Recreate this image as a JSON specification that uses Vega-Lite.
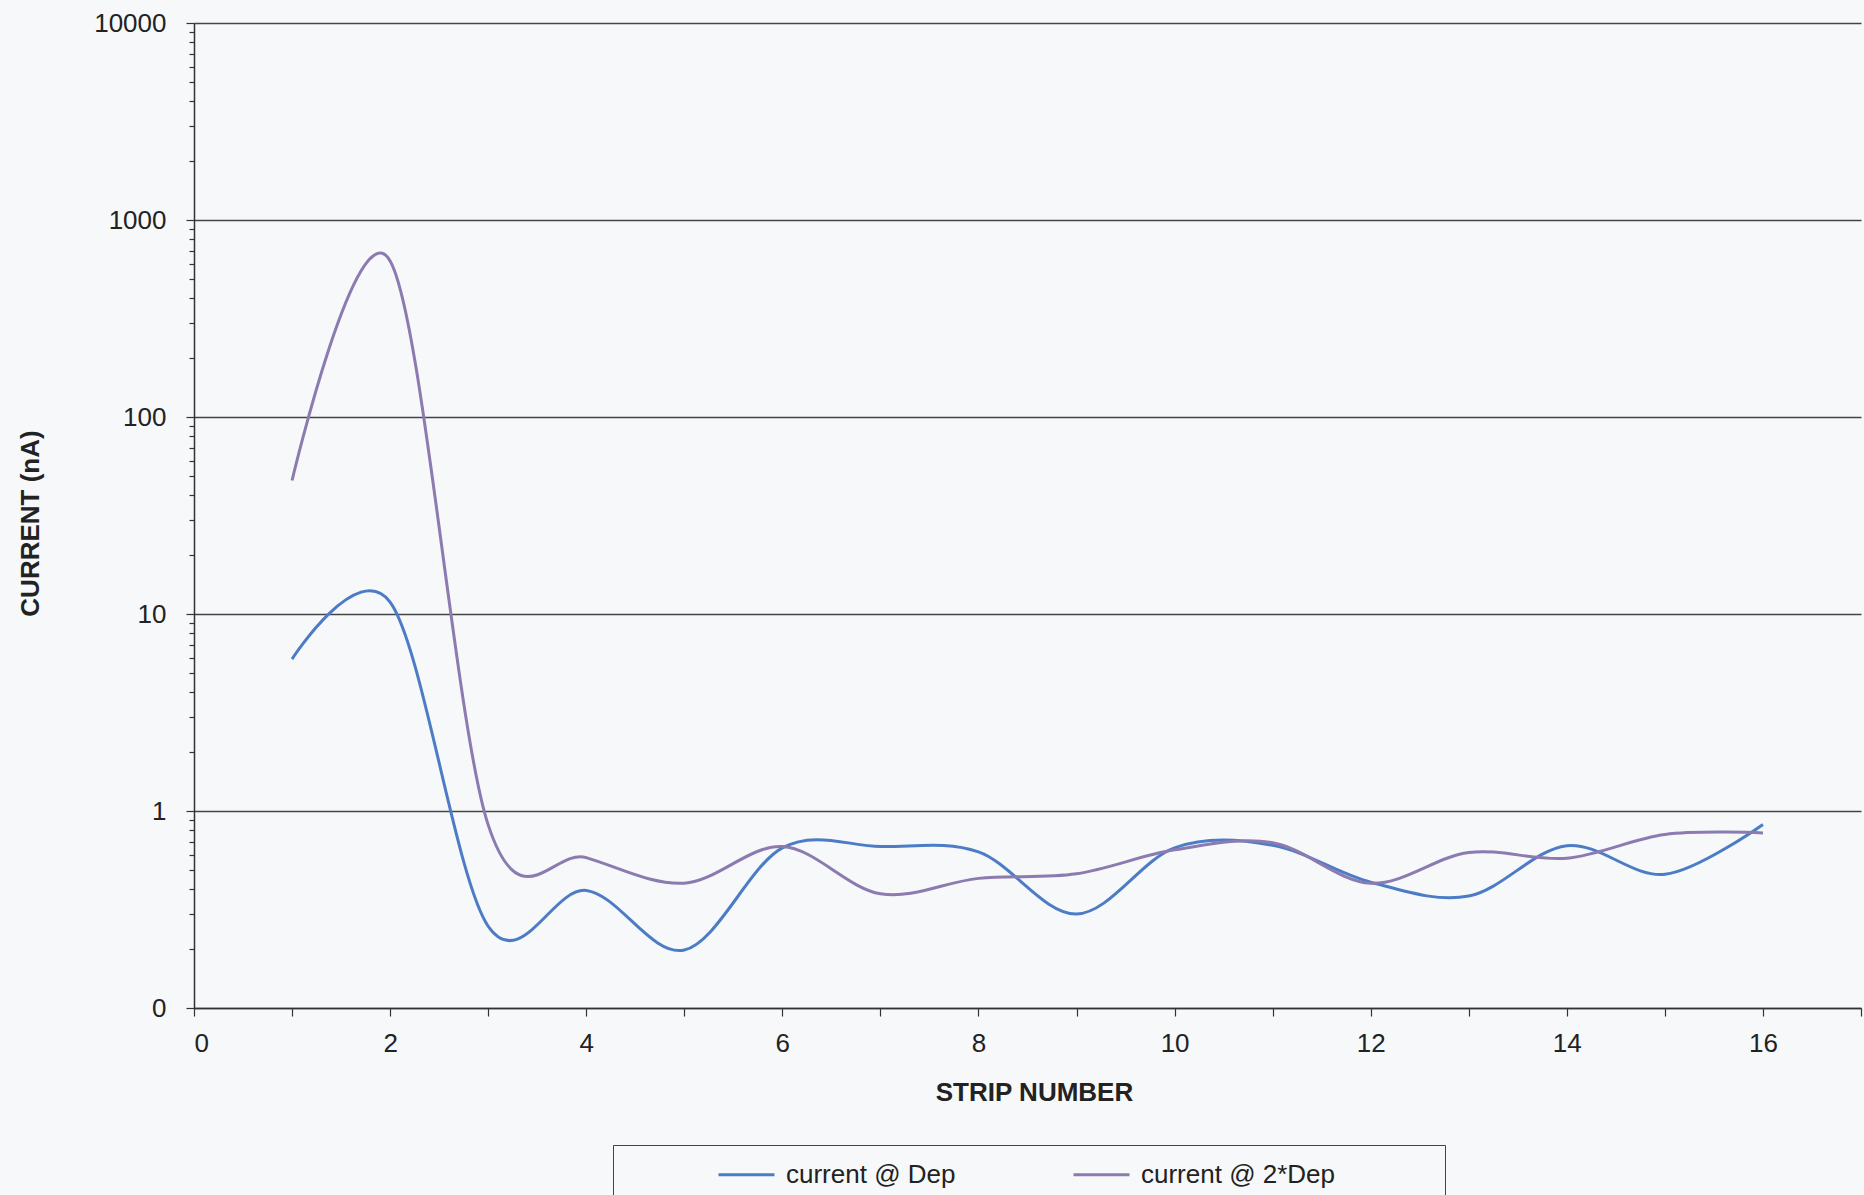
{
  "$schema": "https://vega.github.io/schema/vega-lite/v6.json",
  "width": 1667,
  "height": 985,
  "autosize": {"type": "none"},
  "padding": {"left": 194, "top": 23, "right": 3, "bottom": 187},
  "background": "#f6f8fa",
  "data": {
    "values": [
      {"strip": 1, "current": 5.9, "series": "current @ Dep"},
      {"strip": 2, "current": 11.5, "series": "current @ Dep"},
      {"strip": 3, "current": 0.26, "series": "current @ Dep"},
      {"strip": 4, "current": 0.395, "series": "current @ Dep"},
      {"strip": 5, "current": 0.197, "series": "current @ Dep"},
      {"strip": 6, "current": 0.65, "series": "current @ Dep"},
      {"strip": 7, "current": 0.66, "series": "current @ Dep"},
      {"strip": 8, "current": 0.62, "series": "current @ Dep"},
      {"strip": 9, "current": 0.3, "series": "current @ Dep"},
      {"strip": 10, "current": 0.65, "series": "current @ Dep"},
      {"strip": 11, "current": 0.67, "series": "current @ Dep"},
      {"strip": 12, "current": 0.435, "series": "current @ Dep"},
      {"strip": 13, "current": 0.37, "series": "current @ Dep"},
      {"strip": 14, "current": 0.667, "series": "current @ Dep"},
      {"strip": 15, "current": 0.477, "series": "current @ Dep"},
      {"strip": 16, "current": 0.855, "series": "current @ Dep"},
      {"strip": 1, "current": 47.6, "series": "current @ 2*Dep"},
      {"strip": 2, "current": 620, "series": "current @ 2*Dep"},
      {"strip": 3, "current": 0.85, "series": "current @ 2*Dep"},
      {"strip": 4, "current": 0.58, "series": "current @ 2*Dep"},
      {"strip": 5, "current": 0.43, "series": "current @ 2*Dep"},
      {"strip": 6, "current": 0.66, "series": "current @ 2*Dep"},
      {"strip": 7, "current": 0.38, "series": "current @ 2*Dep"},
      {"strip": 8, "current": 0.455, "series": "current @ 2*Dep"},
      {"strip": 9, "current": 0.48, "series": "current @ 2*Dep"},
      {"strip": 10, "current": 0.635, "series": "current @ 2*Dep"},
      {"strip": 11, "current": 0.69, "series": "current @ 2*Dep"},
      {"strip": 12, "current": 0.43, "series": "current @ 2*Dep"},
      {"strip": 13, "current": 0.616, "series": "current @ 2*Dep"},
      {"strip": 14, "current": 0.576, "series": "current @ 2*Dep"},
      {"strip": 15, "current": 0.76, "series": "current @ 2*Dep"},
      {"strip": 16, "current": 0.774, "series": "current @ 2*Dep"}
    ]
  },
  "mark": {"type": "line", "interpolate": "cardinal", "strokeWidth": 3},
  "encoding": {
    "x": {
      "field": "strip",
      "type": "quantitative",
      "scale": {"domain": [0, 17], "nice": false, "zero": false},
      "axis": {
        "title": "STRIP NUMBER",
        "titleX": 840,
        "titleY": 84,
        "titleBaseline": "middle",
        "titleAlign": "center",
        "values": [0, 1, 2, 3, 4, 5, 6, 7, 8, 9, 10, 11, 12, 13, 14, 15, 16, 17],
        "labelExpr": "datum.value % 2 == 0 ? datum.label : ''",
        "labelOverlap": false,
        "labelPadding": 14,
        "tickSize": 8,
        "grid": false
      }
    },
    "y": {
      "field": "current",
      "type": "quantitative",
      "scale": {"type": "log", "domain": [0.1, 10000], "nice": false},
      "axis": {
        "title": "CURRENT (nA)",
        "titleX": -164,
        "titleY": 500,
        "titleAngle": -90,
        "titleBaseline": "middle",
        "titleAlign": "center",
        "values": [0.1, 0.2, 0.3, 0.4, 0.5, 0.6, 0.7, 0.8, 0.9,
                   1, 2, 3, 4, 5, 6, 7, 8, 9,
                   10, 20, 30, 40, 50, 60, 70, 80, 90,
                   100, 200, 300, 400, 500, 600, 700, 800, 900,
                   1000, 2000, 3000, 4000, 5000, 6000, 7000, 8000, 9000, 10000],
        "format": "d",
        "labelExpr": "indexof([0.1, 1, 10, 100, 1000, 10000], datum.value) >= 0 ? datum.label : ''",
        "labelOverlap": false,
        "labelPadding": 20,
        "tickSize": {"condition": {"test": "indexof([0.1, 1, 10, 100, 1000, 10000], datum.value) >= 0", "value": 8}, "value": 5},
        "grid": true,
        "gridOpacity": {"condition": {"test": "indexof([0.1, 1, 10, 100, 1000, 10000], datum.value) >= 0", "value": 1}, "value": 0}
      }
    },
    "color": {
      "field": "series",
      "type": "nominal",
      "scale": {
        "domain": ["current @ Dep", "current @ 2*Dep"],
        "range": ["#4d7cc6", "#8b7bb0"]
      },
      "legend": {
        "orient": "none",
        "legendX": 419,
        "legendY": 1122,
        "direction": "horizontal",
        "title": ["\u00a0", "\u00a0", "\u00a0"],
        "titleOrient": "right",
        "titleLineHeight": 30,
        "titlePadding": 110,
        "symbolOffset": 104,
        "columnPadding": 12,
        "padding": 0,
        "strokeColor": "#444444",
        "fillColor": "#f6f8fa",
        "labelFontSize": 26,
        "labelFont": "Liberation Sans",
        "labelColor": "#222222",
        "labelOffset": 10,
        "labelLimit": 400,
        "symbolType": "stroke",
        "symbolSize": 3136,
        "symbolStrokeWidth": 3
      }
    }
  },
  "config": {
    "view": {"stroke": null},
    "font": "Liberation Sans",
    "axis": {
      "labelFont": "Liberation Sans",
      "labelFontSize": 26,
      "labelColor": "#222222",
      "titleFont": "Liberation Sans",
      "titleFontSize": 26,
      "titleFontWeight": "bold",
      "titleColor": "#222222",
      "domainColor": "#333333",
      "domainWidth": 1.5,
      "tickColor": "#333333",
      "tickWidth": 1.2,
      "gridColor": "#444444",
      "gridWidth": 1.5
    },
    "legend": {"titleFontSize": 26}
  }
}
